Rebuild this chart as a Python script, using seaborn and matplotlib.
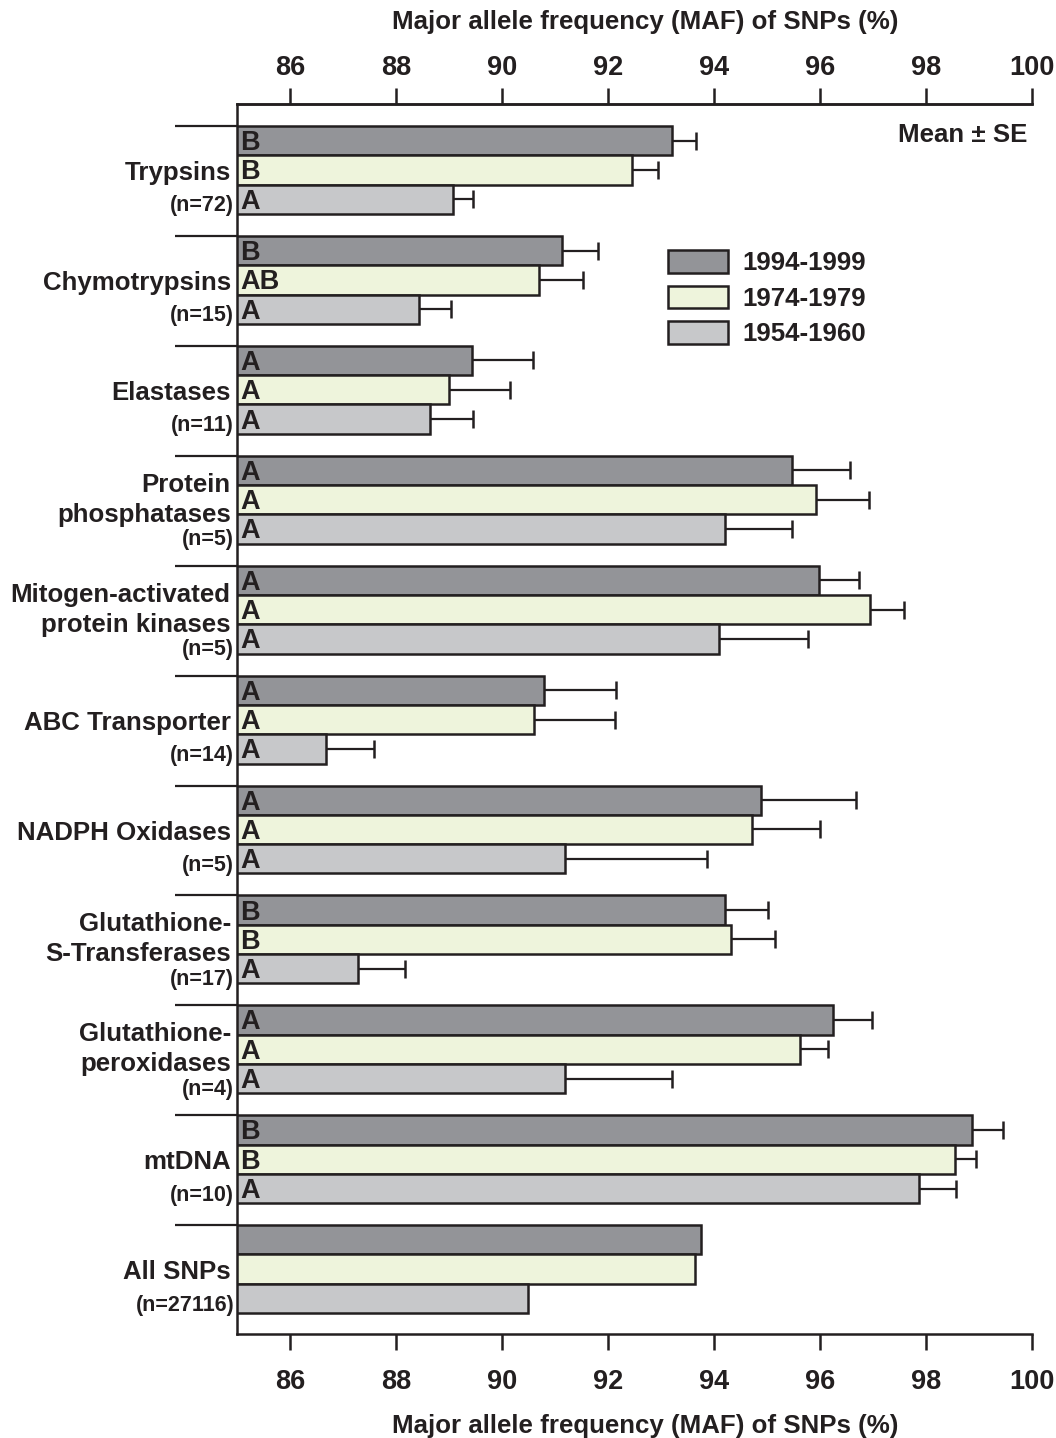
import numpy as np
import pandas as pd
import matplotlib
matplotlib.use("Agg")
import matplotlib.pyplot as plt
import seaborn as sns

# ---- data -------------------------------------------------------------
groups = ["Trypsins", "Chymotrypsins", "Elastases", "Protein\nphosphatases",
          "Mitogen-activated\nprotein kinases", "ABC Transporter", "NADPH Oxidases",
          "Glutathione-\nS-Transferases", "Glutathione-\nperoxidases", "mtDNA", "All SNPs"]
n_labels = ["(n=72)", "(n=15)", "(n=11)", "(n=5)", "(n=5)", "(n=14)", "(n=5)",
            "(n=17)", "(n=4)", "(n=10)", "(n=27116)"]
periods = ["1994-1999", "1974-1979", "1954-1960"]

maf_1994 = [93.21, 91.13, 89.43, 95.47, 95.98, 90.79, 94.89, 94.21, 96.25, 98.87, 93.75]
maf_1974 = [92.45, 90.70, 89.00, 95.92, 96.94, 90.60, 94.72, 94.32, 95.62, 98.55, 93.64]
maf_1954 = [89.08, 88.43, 88.64, 94.21, 94.09, 86.68, 91.19, 87.28, 91.19, 97.87, 90.49]

se_1994 = [0.45, 0.68, 1.15, 1.10, 0.76, 1.36, 1.79, 0.81, 0.73, 0.58, np.nan]
se_1974 = [0.49, 0.83, 1.15, 1.00, 0.64, 1.53, 1.28, 0.83, 0.53, 0.39, np.nan]
se_1954 = [0.37, 0.61, 0.81, 1.26, 1.68, 0.90, 2.68, 0.89, 2.02, 0.70, np.nan]

sig_1994 = ["B", "B", "A", "A", "A", "A", "A", "B", "A", "B", ""]
sig_1974 = ["B", "AB", "A", "A", "A", "A", "A", "B", "A", "B", ""]
sig_1954 = ["A", "A", "A", "A", "A", "A", "A", "A", "A", "A", ""]

colors = ["#939498", "#eef4dc", "#c7c8ca"]
INK = "#231f20"

# ---- long table -------------------------------------------------------
df = pd.DataFrame({
    "group": groups * 3,
    "period": np.repeat(periods, len(groups)),
    "maf": maf_1994 + maf_1974 + maf_1954,
})
se_by_period = [se_1994, se_1974, se_1954]
sig_by_period = [sig_1994, sig_1974, sig_1954]

# ---- figure -----------------------------------------------------------
sns.set_theme(style="white")
plt.rcParams["font.family"] = ["Liberation Sans", "DejaVu Sans"]
plt.rcParams["font.weight"] = "bold"
plt.rcParams["text.color"] = INK

FS_MAIN = 18.6   # group names, titles, legend
FS_TICK = 19.5
FS_SIG = 19.5
FS_N = 15.5

W, H = 1056, 1438
fig = plt.figure(figsize=(W / 100, H / 100), dpi=100)
ax_left, ax_right, ax_top, ax_bot = 237, 1032, 104, 1334
ax = fig.add_axes([ax_left / W, 1 - ax_bot / H, (ax_right - ax_left) / W, (ax_bot - ax_top) / H])

sns.barplot(data=df, y="group", x="maf", hue="period", order=groups, hue_order=periods,
            palette=colors, orient="h", width=0.8, gap=0, errorbar=None,
            edgecolor=INK, linewidth=1.8, saturation=1, legend=False, ax=ax)

ax.set_xlim(85, 100)
ax.set_ylim(len(groups) - 1 + 0.59, -0.6)

# one-sided SE whiskers and significance letters
for container, ses, sigs in zip(ax.containers, se_by_period, sig_by_period):
    for bar, se, sig in zip(container.patches, ses, sigs):
        yc = bar.get_y() + bar.get_height() / 2
        xe = bar.get_width()
        if not np.isnan(se):
            ax.plot([xe, xe + se], [yc, yc], color=INK, lw=1.6, solid_capstyle="butt", zorder=3)
            ax.plot([xe + se], [yc], marker="|", ms=13, mew=1.8, color=INK, zorder=3)
        if sig:
            ax.annotate(sig, xy=(0, yc), xycoords=("axes fraction", "data"),
                        xytext=(2.5, -6.8), textcoords="offset points",
                        ha="left", va="baseline", fontsize=FS_SIG, fontweight="bold", color=INK)

# group labels on the left
px = 109.9  # pixels per category unit
for i, (name, nl) in enumerate(zip(groups, n_labels)):
    top = i - 0.4
    lines = name.split("\n")
    if len(lines) == 1:
        offs, n_off = [47], 80
    else:
        offs, n_off = [29, 59], 84
    for line, off in zip(lines, offs):
        ax.annotate(line, xy=(0, top + off / px), xycoords=("axes fraction", "data"),
                    xytext=(-4.5, 0), textcoords="offset points", ha="right", va="center",
                    fontsize=FS_MAIN, fontweight="bold", color=INK, annotation_clip=False)
    ax.annotate(nl, xy=(0, top + n_off / px), xycoords=("axes fraction", "data"),
                xytext=(-2, 0), textcoords="offset points", ha="right", va="center",
                fontsize=FS_N, fontweight="bold", color=INK, annotation_clip=False)

ax.annotate("Mean ± SE", xy=(0.9937, -0.4 + 9 / px), xycoords=("axes fraction", "data"),
            ha="right", va="center", fontsize=FS_MAIN, fontweight="bold", color=INK)

# separators drawn as long left ticks above each group
ax.set_yticks(np.arange(len(groups)) - 0.4)
ax.set_yticklabels([""] * len(groups))
ax.set_ylabel("")
ax.tick_params(axis="y", left=True, direction="out", length=45, width=1.6, color=INK)

# x axis: bottom and top
xt = list(range(86, 101, 2))
ax.set_xticks(xt)
ax.set_xticklabels([str(v) for v in xt])
ax.set_xlabel("")
ax.tick_params(axis="x", bottom=True, direction="out", length=11.5, width=1.8, pad=14,
               labelsize=FS_TICK, colors=INK)
sec = ax.secondary_xaxis("top")
sec.set_xticks(xt)
sec.set_xticklabels([str(v) for v in xt])
sec.tick_params(axis="x", top=True, direction="out", length=11.5, width=1.8, pad=5,
                labelsize=FS_TICK, colors=INK)
for lab in ax.get_xticklabels() + sec.get_xticklabels():
    lab.set_fontweight("bold")
sec.spines["top"].set_linewidth(1.8)
sec.spines["top"].set_color(INK)

for side in ["left", "bottom", "top"]:
    ax.spines[side].set_visible(True)
    ax.spines[side].set_linewidth(1.8)
    ax.spines[side].set_color(INK)
ax.spines["right"].set_visible(False)

title = "Major allele frequency (MAF) of SNPs (%)"
fig.text(645 / W, 1 - 22 / H, title, ha="center", va="center", fontsize=FS_MAIN,
         fontweight="bold", color=INK)
fig.text(645 / W, 1 - 1426 / H, title, ha="center", va="center", fontsize=FS_MAIN,
         fontweight="bold", color=INK)

# legend
handles = [c.patches[0] for c in ax.containers]
leg = ax.legend(handles, periods, loc="upper left", bbox_to_anchor=(668 / W, 1 - 250 / H),
                bbox_transform=fig.transFigure, frameon=False, borderpad=0, borderaxespad=0,
                handlelength=60 / 25.8, handleheight=25 / 25.8, labelspacing=0.40,
                handletextpad=0.55, prop={"size": FS_MAIN, "weight": "bold"})
for t in leg.get_texts():
    t.set_color(INK)

fig.savefig("out.png", dpi=100)
